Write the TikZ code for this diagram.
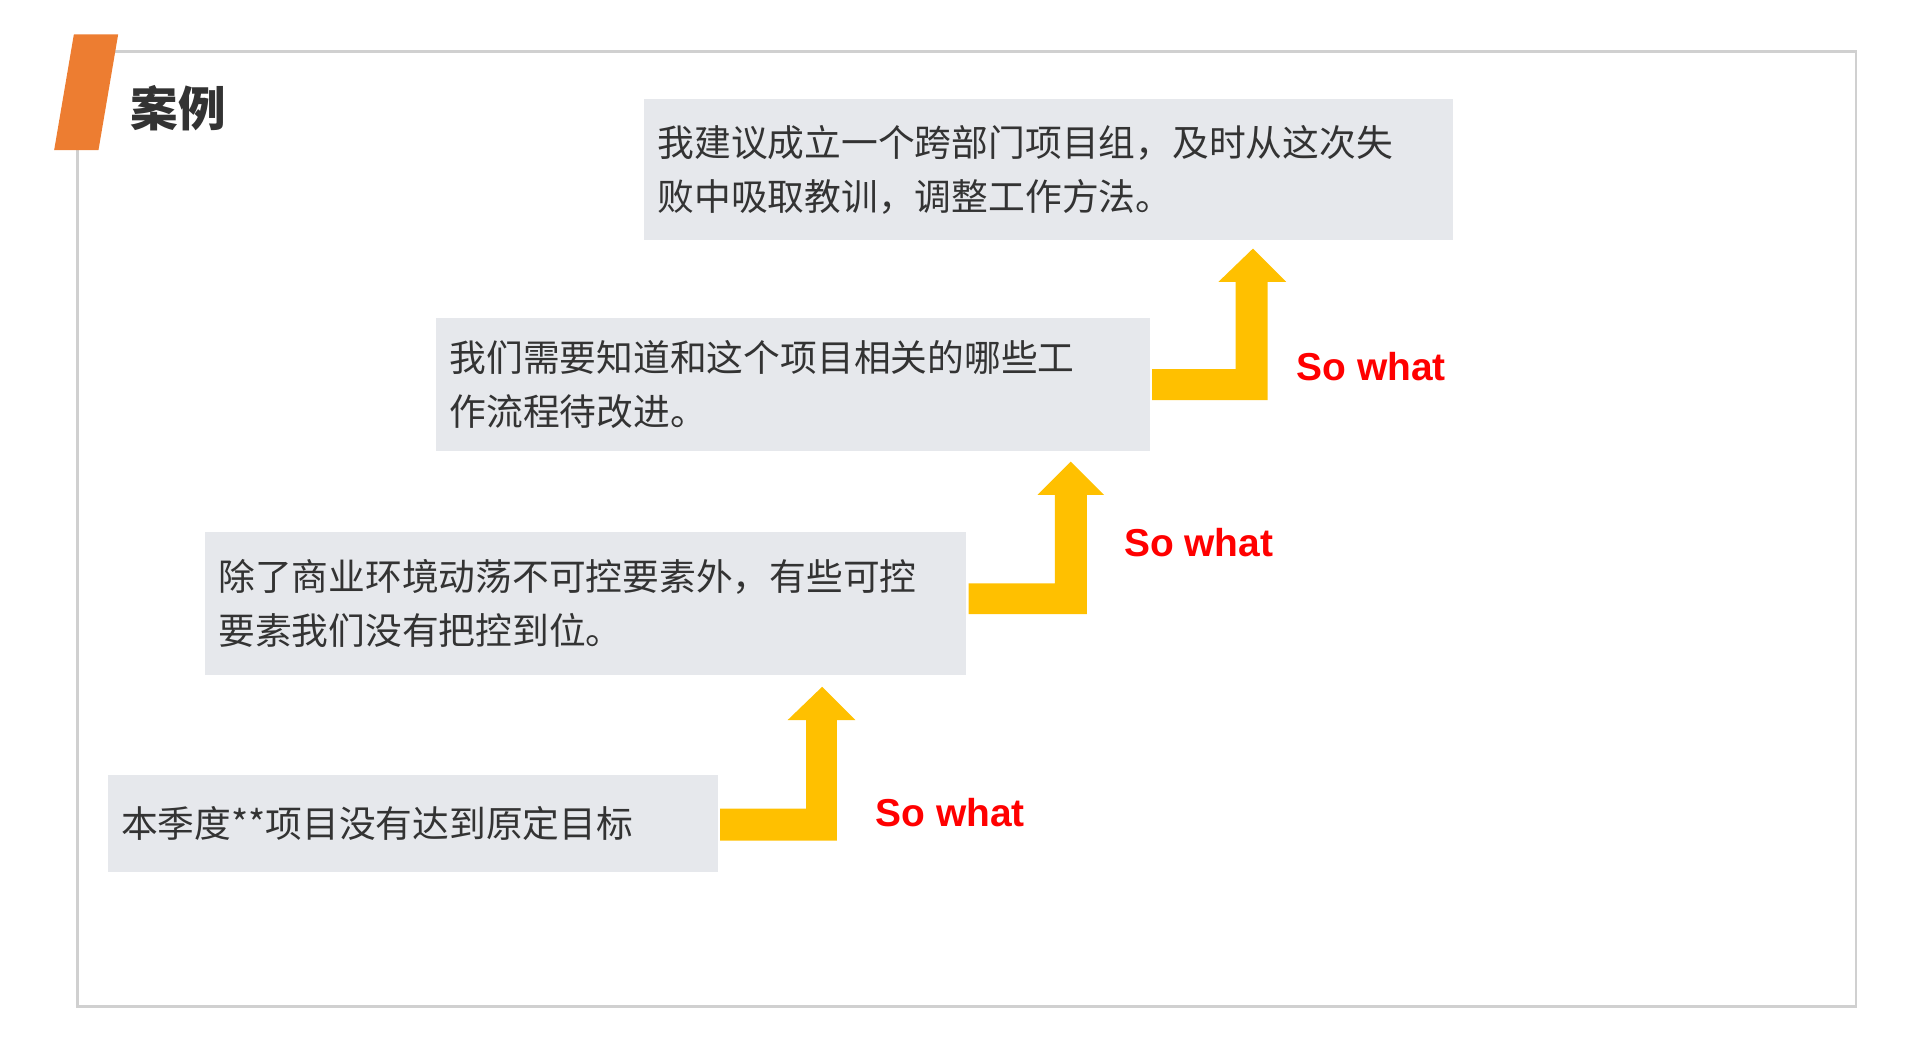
\documentclass[tikz,border=0pt]{standalone}
\usepackage{fontspec}
\newfontfamily\cjk{Noto Sans CJK SC}
\setmainfont{Liberation Sans}
\definecolor{boxgray}{HTML}{E6E8EC}
\definecolor{arrowyellow}{HTML}{FFC000}
\definecolor{tagorange}{HTML}{ED7D31}
\definecolor{textdark}{HTML}{333333}
\definecolor{framegray}{HTML}{D0D0D0}
\tikzset{
  stepbox/.style={fill=boxgray, anchor=north west, inner xsep=0.22cm, align=left,
    text=textdark, font=\cjk\fontsize{17}{25}\selectfont},
  sowhat/.style={text=red, font=\bfseries\fontsize{18}{20}\selectfont},
  uparrow/.style={fill=arrowyellow, draw=none}
}
% L-shaped arrow: start point, corner x, tip y
\newcommand{\steparrow}[3]{%
  \fill[uparrow] (#1) ++(0,-13) -- ++({#2-#1-2},0) coordinate (tmp) ;}
\begin{document}
\begin{tikzpicture}[x=0.02cm,y=-0.02cm]
  \useasboundingbox (0,0) rectangle (1560,846);
  % frame & tag
  \draw[framegray, line width=1.2pt] (63,42) rectangle (1508,818);
  \fill[tagorange] (60,28) -- (96,28) -- (80,122) -- (44,122) -- cycle;
  \node[anchor=west, text=textdark, font=\cjk\bfseries\fontsize{22}{24}\selectfont] (title) at (100,88) {案例};
  % boxes
  \node[stepbox, minimum width=13.14cm, minimum height=2.3cm, text width=12.7cm] (top) at (523,80)
    {我建议成立一个跨部门项目组，及时从这次失\\败中吸取教训，调整工作方法。};
  \node[stepbox, minimum width=11.6cm, minimum height=2.16cm, text width=11.16cm] (third) at (354,258)
    {我们需要知道和这个项目相关的哪些工\\作流程待改进。};
  \node[stepbox, minimum width=12.38cm, minimum height=2.32cm, text width=11.94cm] (second) at (166,432)
    {除了商业环境动荡不可控要素外，有些可控\\要素我们没有把控到位。};
  \node[stepbox, minimum width=9.92cm, minimum height=1.58cm, text width=9.48cm] (first) at (87,629)
    {本季度**项目没有达到原定目标};
  % arrows
  \fill[uparrow] (585,657) -- (655,657) -- (655,585) -- (640,585) -- (668,558) -- (695,585)
    -- (680,585) -- (680,683) -- (585,683) -- cycle;
  \fill[uparrow] (787,474) -- (857,474) -- (857,402) -- (843,402) -- (870,375) -- (897,402)
    -- (883,402) -- (883,499) -- (787,499) -- cycle;
  \fill[uparrow] (936,300) -- (1004,300) -- (1004,229) -- (990,229) -- (1018,202) -- (1045,229)
    -- (1030,229) -- (1030,325) -- (936,325) -- cycle;
  % labels
  \node[sowhat] (sw1) at (772,660) {So what};
  \node[sowhat] (sw2) at (974,441) {So what};
  \node[sowhat] (sw3) at (1114,298) {So what};
\end{tikzpicture}
\end{document}
